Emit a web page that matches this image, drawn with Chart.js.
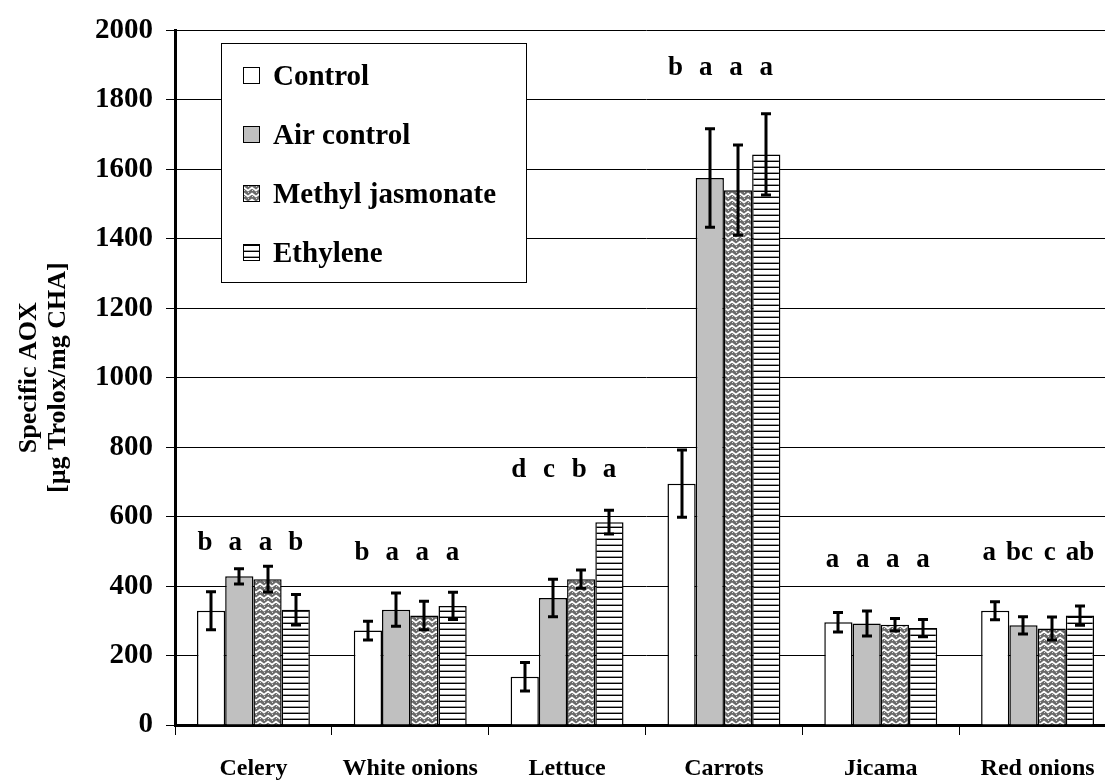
<!DOCTYPE html>
<html>
<head>
<meta charset="utf-8">
<script src="https://cdn.jsdelivr.net/npm/chart.js@4.4.1/dist/chart.umd.min.js"></script>
<style>
  html, body { margin: 0; padding: 0; background: #fff; overflow: hidden; }
  #wrap { position: relative; width: 1120px; height: 780px; }
</style>
</head>
<body>
<div id="wrap"><canvas id="c" width="1120" height="780"></canvas></div>
<script>
// Specific antioxidant capacity per commodity and treatment
const categories = ['Celery', 'White onions', 'Lettuce', 'Carrots', 'Jicama', 'Red onions'];
const seriesNames = ['Control', 'Air control', 'Methyl jasmonate', 'Ethylene'];

const controlValues = [329, 272, 139, 695, 296, 329];
const controlErrors = [55, 27, 41, 97, 28, 26];
const airValues     = [428, 332, 366, 1575, 292, 287];
const airErrors     = [22, 48, 54, 142, 36, 25];
const mejaValues    = [420, 315, 420, 1540, 289, 278];
const mejaErrors    = [37, 41, 26, 130, 18, 33];
const ethValues     = [332, 343, 584, 1643, 279, 315];
const ethErrors     = [44, 39, 34, 117, 25, 28];

// significance letters per commodity, one per treatment
const groupLetters = [
  ['b', 'a', 'a', 'b'],
  ['b', 'a', 'a', 'a'],
  ['d', 'c', 'b', 'a'],
  ['b', 'a', 'a', 'a'],
  ['a', 'a', 'a', 'a'],
  ['a', 'bc', 'c', 'ab']
];
// value-axis level of each letter row's baseline
const letterLevels = [505, 474, 715, 1872, 454, 474];

const yTicks = { min: 0, max: 2000, step: 200 };

const FONT = '"Liberation Serif", "Times New Roman", serif';
const ctx = document.getElementById('c').getContext('2d');

// fill patterns
function linePattern() {
  const t = document.createElement('canvas');
  t.width = 8; t.height = 6;
  const g = t.getContext('2d');
  g.fillStyle = '#ffffff'; g.fillRect(0, 0, 8, 6);
  g.fillStyle = '#000000'; g.fillRect(0, 5, 8, 1);
  g.fillStyle = '#9a9a9a'; g.fillRect(0, 4, 8, 1);
  return ctx.createPattern(t, 'repeat');
}
function weavePattern() {
  const t = document.createElement('canvas');
  t.width = 8; t.height = 6;
  const g = t.getContext('2d');
  g.fillStyle = '#6a6a6a'; g.fillRect(0, 0, 8, 6);
  g.strokeStyle = '#ffffff'; g.lineWidth = 1.7;
  g.beginPath();
  g.moveTo(-1, 5); g.lineTo(0, 4.5); g.lineTo(4, 1.5); g.lineTo(8, 4.5); g.lineTo(9, 5.5);
  g.stroke();
  g.fillStyle = '#d8d8d8';
  g.fillRect(4, 4, 1, 1); g.fillRect(0, 0, 1, 1);
  return ctx.createPattern(t, 'repeat');
}

const fills = ['#ffffff', '#c0c0c0', weavePattern(), linePattern()];
const valueSets = [controlValues, airValues, mejaValues, ethValues];
const errorSets = [controlErrors, airErrors, mejaErrors, ethErrors];

const datasets = seriesNames.map((name, i) => ({
  label: name,
  data: valueSets[i],
  errors: errorSets[i],
  backgroundColor: fills[i],
  borderColor: '#000000',
  borderWidth: 1.5,
  borderSkipped: 'start',
  categoryPercentage: 0.72,
  barPercentage: 1.0
}));

// error bars and significance letters
const annotations = {
  id: 'annotations',
  afterDatasetsDraw(chart) {
    const c = chart.ctx;
    const y = chart.scales.y;
    c.save();
    c.strokeStyle = '#000';
    c.lineWidth = 3;
    chart.data.datasets.forEach((ds, di) => {
      const meta = chart.getDatasetMeta(di);
      meta.data.forEach((bar, idx) => {
        const v = ds.data[idx], e = ds.errors[idx];
        const top = y.getPixelForValue(v + e);
        const bot = y.getPixelForValue(v - e);
        const x = Math.round(bar.x);
        c.beginPath();
        c.moveTo(x, top); c.lineTo(x, bot);
        c.moveTo(x - 5, top); c.lineTo(x + 5, top);
        c.moveTo(x - 5, bot); c.lineTo(x + 5, bot);
        c.stroke();
      });
    });
    c.fillStyle = '#000';
    c.font = 'bold 27px ' + FONT;
    c.textAlign = 'center';
    c.textBaseline = 'alphabetic';
    groupLetters.forEach((letters, gi) => {
      const ly = y.getPixelForValue(letterLevels[gi]);
      letters.forEach((txt, di) => {
        const bar = chart.getDatasetMeta(di).data[gi];
        c.fillText(txt, bar.x - 3 + (di - 1.5) * 2, ly);
      });
    });
    c.restore();
  }
};

// boxed legend inside the plot
const boxedLegend = {
  id: 'boxedLegend',
  afterDraw(chart) {
    const c = chart.ctx;
    c.save();
    const bx = 221, by = 43, bw = 305, bh = 239;
    c.fillStyle = '#fff';
    c.fillRect(bx, by, bw, bh);
    c.strokeStyle = '#000';
    c.lineWidth = 1;
    c.strokeRect(bx + 0.5, by + 0.5, bw, bh);
    c.font = 'bold 29px ' + FONT;
    c.textAlign = 'left';
    c.textBaseline = 'alphabetic';
    const baselines = [85, 144, 203, 262];
    chart.data.datasets.forEach((ds, i) => {
      const base = baselines[i];
      const mx = 243, my = base - 18, ms = 17;
      c.fillStyle = ds.backgroundColor;
      c.fillRect(mx, my, ms, ms);
      c.strokeStyle = '#000';
      c.lineWidth = 1;
      c.strokeRect(mx + 0.5, my + 0.5, ms - 1, ms - 1);
      c.fillStyle = '#000';
      c.fillText(ds.label, 273, base);
    });
    c.restore();
  }
};

new Chart(ctx, {
  type: 'bar',
  data: { labels: categories, datasets },
  plugins: [annotations, boxedLegend],
  options: {
    responsive: false,
    animation: false,
    layout: { padding: { top: 20, right: 4, left: 0, bottom: 0 } },
    plugins: {
      legend: { display: false },
      tooltip: { enabled: false }
    },
    scales: {
      x: {
        afterFit(s) { s.height = 55; },
        grid: {
          display: true,
          drawOnChartArea: false,
          drawTicks: true,
          tickLength: 10,
          color: '#000',
          tickColor: '#000',
          offset: true
        },
        border: { display: true, width: 3, color: '#000' },
        ticks: {
          color: '#000',
          padding: 19,
          font: { family: FONT, size: 24, weight: 'bold' }
        }
      },
      y: {
        min: yTicks.min,
        max: yTicks.max,
        afterFit(s) { s.width = 175; },
        grid: {
          color: '#000',
          lineWidth: 1,
          tickLength: 9,
          tickColor: '#000'
        },
        border: { display: true, width: 3, color: '#000' },
        ticks: {
          stepSize: yTicks.step,
          color: '#000',
          padding: 13,
          callback: (v) => String(v),
          font: { family: FONT, size: 29, weight: 'bold' }
        },
        title: {
          display: true,
          text: ['Specific AOX', '[µg Trolox/mg CHA]'],
          color: '#000',
          padding: { top: 15, bottom: 0 },
          font: { family: FONT, size: 26, weight: 'bold', lineHeight: 1.1 }
        }
      }
    }
  }
});
</script>
</body>
</html>
